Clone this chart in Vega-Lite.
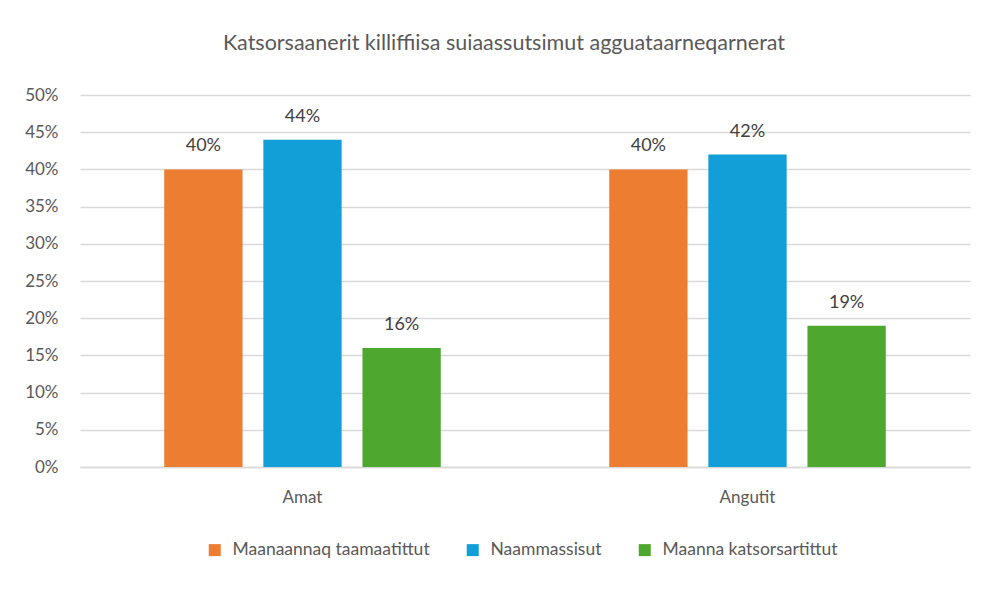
{
  "$schema": "https://vega.github.io/schema/vega-lite/v6.json",
  "autosize": "none",
  "width": 890,
  "height": 372,
  "padding": {"left": 80, "top": 95, "right": 18, "bottom": 123},
  "background": "white",
  "title": {
    "text": "Katsorsaanerit killiffiisa suiaassutsimut agguataarneqarnerat",
    "anchor": "middle",
    "frame": "group",
    "font": "Lato",
    "fontSize": 21.5,
    "fontWeight": "normal",
    "color": "#595959",
    "offset": 32,
    "dx": -21
  },
  "data": {
    "values": [
      {"group": "Amat", "series": "Maanaannaq taamaatittut", "value": 0.40},
      {"group": "Amat", "series": "Naammassisut", "value": 0.44},
      {"group": "Amat", "series": "Maanna katsorsartittut", "value": 0.16},
      {"group": "Angutit", "series": "Maanaannaq taamaatittut", "value": 0.40},
      {"group": "Angutit", "series": "Naammassisut", "value": 0.42},
      {"group": "Angutit", "series": "Maanna katsorsartittut", "value": 0.19}
    ]
  },
  "config": {
    "font": "Lato",
    "view": {"stroke": null}
  },
  "encoding": {
    "x": {
      "field": "group", "type": "nominal", "sort": ["Amat", "Angutit"],
      "scale": {"paddingInner": 0, "paddingOuter": 0},
      "axis": {
        "title": null, "labelAngle": 0, "labelFontSize": 17, "labelColor": "#595959",
        "domainColor": "#D9D9D9", "domainWidth": 1.5, "ticks": false, "labelPadding": 22
      }
    },
    "xOffset": {
      "field": "series", "type": "nominal",
      "sort": ["Maanaannaq taamaatittut", "Naammassisut", "Maanna katsorsartittut"],
      "scale": {"paddingInner": 0.21, "paddingOuter": 0.85}
    },
    "y": {
      "field": "value", "type": "quantitative",
      "scale": {"domain": [0, 0.5], "nice": false},
      "axis": {
        "title": null, "format": ".0%", "values": [0, 0.05, 0.1, 0.15, 0.2, 0.25, 0.3, 0.35, 0.4, 0.45, 0.5],
        "labelOverlap": false,
        "labelFontSize": 17, "labelColor": "#595959", "domain": false, "ticks": false,
        "labelPadding": 22, "gridColor": "#D9D9D9", "gridWidth": 1.5
      }
    }
  },
  "layer": [
    {
      "mark": {"type": "bar"},
      "encoding": {
        "color": {
          "field": "series", "type": "nominal",
          "sort": ["Maanaannaq taamaatittut", "Naammassisut", "Maanna katsorsartittut"],
          "scale": {"range": ["#ED7D31", "#129FD7", "#4EA72E"]},
          "legend": {
            "title": null, "orient": "none", "direction": "horizontal",
            "legendX": 126, "legendY": 446,
            "symbolType": "square", "symbolSize": 144, "symbolStrokeWidth": 0,
            "labelFontSize": 17.5, "labelColor": "#595959", "columnPadding": 34,
            "labelOffset": 9, "labelLimit": 400
          }
        }
      }
    },
    {
      "mark": {"type": "text", "dy": -18, "fontSize": 18, "color": "#404040", "baseline": "alphabetic"},
      "encoding": {
        "text": {"field": "value", "type": "quantitative", "format": ".0%"}
      }
    }
  ]
}
